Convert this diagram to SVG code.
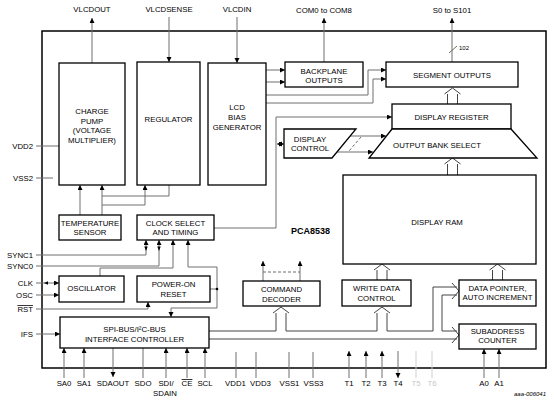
<svg xmlns="http://www.w3.org/2000/svg" width="554" height="403" viewBox="0 0 554 403">
<defs>
<marker id="a" markerUnits="userSpaceOnUse" markerWidth="6" markerHeight="6" refX="5" refY="2.5" orient="auto-start-reverse"><path d="M0,0 L5,2.5 L0,5 z" fill="#000"/></marker>
<style>
text{font-family:"Liberation Sans",Arial,sans-serif;font-size:7.8px;fill:#000}
.c{text-anchor:middle}
.r{text-anchor:end}
.b{fill:#fff;stroke:#000;stroke-width:1.3}
.l{fill:none;stroke:#6e6e6e;stroke-width:1}
.ar{marker-end:url(#a)}
.dd{marker-start:url(#a);marker-end:url(#a)}
.h{fill:none;stroke:#444;stroke-width:1}
.d{stroke-dasharray:3,2}
.f{fill:none;stroke:#cfcfcf;stroke-width:1}
</style>
</defs>
<rect width="554" height="403" fill="#fff"/>
<rect x="42" y="31" width="504" height="337" fill="none" stroke="#000" stroke-width="1.5"/>

<g id="connectors">
<path class="l ar" d="M92,63V18"/>
<path class="l ar" d="M169,17V62"/>
<path class="l ar" d="M237,17V63"/>
<path class="l ar" d="M324,62V18"/>
<path class="l ar" d="M452,62V18"/>
<path class="l" d="M449,53L457,46"/>
<path class="l" d="M36,146H59"/>
<path class="l" d="M36,178H53"/>
<path class="l ar" d="M36,255H146V240"/>
<path d="M144.3,246.5H147.7L146,251z"/>
<path class="l ar" d="M36,266H159V240"/>
<path d="M157.3,246.5H160.7L159,251z"/>
<path class="l ar" d="M100,276V268H173V240"/>
<path class="l ar" d="M217,289V267H188V240"/>
<path class="l ar" d="M210,289H217V308H171V317"/>
<circle cx="217" cy="289" r="1.3" fill="#000"/>
<path class="l ar" d="M36,283H59"/>
<path d="M48,281.3V284.7L44,283z"/>
<path class="l ar" d="M36,295H59"/>
<path class="l ar" d="M36,309H148V302"/>
<path class="l ar" d="M36,334H60"/>
<path class="l ar" d="M80,215V185"/>
<path class="l ar" d="M102,215V185"/>
<path class="l ar" d="M102,205H145V185"/>
<path class="l" d="M169,185V196H102"/>
<path class="l ar" d="M266,70H285"/>
<path class="l ar" d="M266,82H285"/>
<path class="l ar" d="M266,95H368V70H386"/>
<path class="l ar" d="M266,103H373V79H386"/>
<path class="l ar" d="M214,228H276V117H392"/>
<path class="l dd" d="M277,144H284"/>
<path class="l ar" d="M350,136H386"/>
<path class="l ar" d="M337,152H373"/>
<path class="l d" d="M361,137L349,151"/>
<path class="l ar" d="M263,281V261"/>
<path class="l ar" d="M300,281V261"/>
<path class="l d" d="M263,272H300"/>
<!-- hollow arrows -->
<path class="h" d="M447.5,104V94M457.5,104V94M444.5,94L452.5,88L460.5,94"/>
<path class="h" d="M447.5,175V164M457.5,175V164M444.5,164L452.5,158L460.5,164"/>
<path class="h" d="M377,280V270M387,280V270M374,270L382,264L390,270"/>
<path class="h" d="M492.5,280V270M502.5,280V270M489.5,270L497.5,264L505.5,270"/>
<path class="h" d="M273,313L281,307L289,313"/>
<path class="h" d="M374,313L382,307L390,313"/>
<path class="h" d="M209,331H276V313M286,313V331H377V313M387,313V331H433V287H457M457,295H442V331H457M209,339H457"/>
<path class="h" d="M452,283L459,291L452,299M452,327L459,335L452,343"/>
<!-- pins -->
<path class="l ar" d="M64,378V348"/>
<path class="l ar" d="M84,378V348"/>
<path class="l ar" d="M113,348V377"/>
<path class="l" d="M143,348V378"/>
<path class="l ar" d="M166,378V348"/>
<path class="l ar" d="M187,378V348"/>
<path class="l ar" d="M205,378V348"/>
<path class="l" d="M236,352V378M256,352V378M289,352V378M313,352V378"/>
<path class="l ar" d="M349,378V351"/>
<path class="l ar" d="M366,378V351"/>
<path class="l ar" d="M382,378V351"/>
<path class="l ar" d="M398,351V378"/>
<path class="f" d="M416,351V378M432,351V378"/>
<path class="l ar" d="M484,378V349"/>
<path class="l ar" d="M499,378V349"/>
</g>

<g id="charge-pump"><rect class="b" x="59" y="63" width="66" height="122"/>
<text class="c" x="92" y="114">CHARGE</text><text class="c" x="92" y="123.5">PUMP</text><text class="c" x="92" y="133">(VOLTAGE</text><text class="c" x="92" y="142.5">MULTIPLIER)</text></g>
<g id="regulator"><rect class="b" x="137" y="62" width="63" height="123"/><text class="c" x="168.5" y="122">REGULATOR</text></g>
<g id="lcd-bias"><rect class="b" x="208" y="63" width="58" height="122"/>
<text class="c" x="237" y="110">LCD</text><text class="c" x="237" y="120">BIAS</text><text class="c" x="237" y="130">GENERATOR</text></g>
<g id="backplane"><rect class="b" x="285" y="62" width="78" height="25"/>
<text class="c" x="324" y="73.5">BACKPLANE</text><text class="c" x="324" y="83">OUTPUTS</text></g>
<g id="segment"><rect class="b" x="386" y="62" width="132" height="25"/><text class="c" x="452" y="78">SEGMENT OUTPUTS</text></g>
<g id="display-register"><rect class="b" x="392" y="104" width="119" height="25"/><text class="c" x="451.5" y="120">DISPLAY REGISTER</text></g>
<g id="output-bank"><path class="b" d="M392,129H511L537,158H369z"/><text class="c" x="437" y="148">OUTPUT BANK SELECT</text></g>
<g id="display-control"><path class="b" d="M284,129H356L332,158H284z"/>
<text class="c" x="310" y="142">DISPLAY</text><text class="c" x="310" y="151">CONTROL</text></g>
<g id="display-ram"><rect class="b" x="343" y="175" width="193" height="89"/><text class="c" x="437" y="225">DISPLAY RAM</text></g>
<g id="temp"><rect class="b" x="59" y="215" width="62" height="25"/>
<text class="c" x="90" y="226">TEMPERATURE</text><text class="c" x="90" y="235">SENSOR</text></g>
<g id="clock"><rect class="b" x="137" y="215" width="77" height="25"/>
<text class="c" x="175.5" y="226">CLOCK SELECT</text><text class="c" x="175.5" y="235">AND TIMING</text></g>
<g id="oscillator"><rect class="b" x="59" y="276" width="65" height="26"/><text class="c" x="91.5" y="291">OSCILLATOR</text></g>
<g id="por"><rect class="b" x="137" y="276" width="73" height="26"/>
<text class="c" x="173.5" y="287">POWER-ON</text><text class="c" x="173.5" y="297">RESET</text></g>
<g id="spi"><rect class="b" x="60" y="317" width="149" height="31"/>
<text class="c" x="134.5" y="332">SPI-BUS/I²C-BUS</text><text class="c" x="134.5" y="342">INTERFACE CONTROLLER</text></g>
<g id="command-decoder"><rect class="b" x="243" y="281" width="77" height="25"/>
<text class="c" x="281.5" y="292">COMMAND</text><text class="c" x="281.5" y="302">DECODER</text></g>
<g id="write-data"><rect class="b" x="342" y="280" width="69" height="26"/>
<text class="c" x="376.5" y="291">WRITE DATA</text><text class="c" x="376.5" y="301">CONTROL</text></g>
<g id="data-pointer"><rect class="b" x="459" y="280" width="77" height="26"/>
<text class="c" x="497.5" y="291">DATA POINTER,</text><text class="c" x="497.5" y="300">AUTO INCREMENT</text></g>
<g id="subaddress"><rect class="b" x="459" y="324" width="77" height="25"/>
<text class="c" x="497.5" y="334">SUBADDRESS</text><text class="c" x="497.5" y="343">COUNTER</text></g>

<g id="labels">
<text class="c" x="92" y="12">VLCDOUT</text>
<text class="c" x="169" y="12">VLCDSENSE</text>
<text class="c" x="237" y="12">VLCDIN</text>
<text class="c" x="324" y="13">COM0 to COM8</text>
<text class="c" x="452" y="13">S0 to S101</text>
<text x="459" y="49.5" style="font-size:6px">102</text>
<text x="291" y="234" style="font-size:9px;font-weight:bold">PCA8538</text>
<text class="r" x="33" y="149">VDD2</text>
<text class="r" x="33" y="181">VSS2</text>
<text class="r" x="33" y="258">SYNC1</text>
<text class="r" x="33" y="269">SYNC0</text>
<text class="r" x="33" y="286">CLK</text>
<text class="r" x="33" y="298">OSC</text>
<text class="r" x="33" y="312" text-decoration="overline">RST</text>
<text class="r" x="33" y="337">IFS</text>
<text class="c" x="64" y="386">SA0</text>
<text class="c" x="84" y="386">SA1</text>
<text class="c" x="113" y="386">SDAOUT</text>
<text class="c" x="143" y="386">SDO</text>
<text class="c" x="166" y="386">SDI/</text>
<text class="c" x="165" y="396">SDAIN</text>
<text class="c" x="187" y="386" text-decoration="overline">CE</text>
<text class="c" x="205" y="386">SCL</text>
<text class="c" x="235.5" y="386">VDD1</text>
<text class="c" x="260.5" y="386">VDD3</text>
<text class="c" x="289.5" y="386">VSS1</text>
<text class="c" x="313.5" y="386">VSS3</text>
<text class="c" x="349" y="386">T1</text>
<text class="c" x="366" y="386">T2</text>
<text class="c" x="382" y="386">T3</text>
<text class="c" x="398" y="386">T4</text>
<text class="c" x="416" y="386" style="fill:#c8c8c8">T5</text>
<text class="c" x="432" y="386" style="fill:#c8c8c8">T6</text>
<text class="c" x="484" y="386">A0</text>
<text class="c" x="499" y="386">A1</text>
<text class="r" x="546" y="396" style="font-size:6px;font-style:italic">aaa-006041</text>
</g>
</svg>
